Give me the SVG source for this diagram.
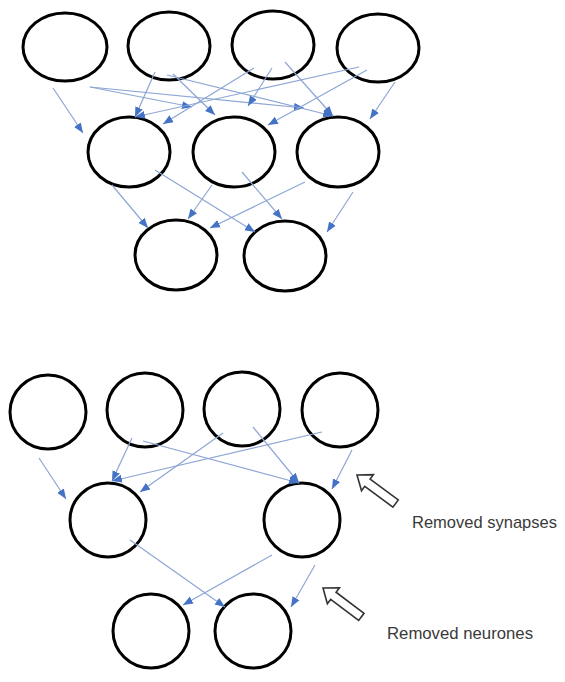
<svg xmlns="http://www.w3.org/2000/svg" width="565" height="682" viewBox="0 0 565 682">
<style>
.n{fill:#fff;stroke:#000;stroke-width:3}
.c{stroke:#8ea6d4;stroke-width:1.2;fill:none;marker-end:url(#ah)}
.h{fill:#fff;stroke:#333;stroke-width:1.6;stroke-linejoin:miter}
.t{font-family:"Liberation Sans",Arial,sans-serif;font-size:17px;fill:#3a3a3a}
</style>
<defs>
<marker id="ah" markerUnits="userSpaceOnUse" markerWidth="10" markerHeight="10" viewBox="0 0 10 10" refX="10" refY="5" orient="auto">
<path d="M0,1 L10,5 L0,9 Z" fill="#4472c4"/>
</marker>
<polygon id="hollow" points="0,0 13,-10 13,-4.5 48,-4.5 48,4.5 13,4.5 13,10"/>
</defs>
<rect width="565" height="682" fill="#fff"/>
<g id="top-nodes">
<g id="t1"><ellipse class="n" cx="65" cy="47" rx="42" ry="34"/></g>
<g id="t2"><ellipse class="n" cx="169" cy="46" rx="41" ry="34"/></g>
<g id="t3"><ellipse class="n" cx="273" cy="45" rx="41" ry="34"/></g>
<g id="t4"><ellipse class="n" cx="378" cy="48" rx="41" ry="34"/></g>
<g id="t5"><ellipse class="n" cx="129" cy="152" rx="41" ry="35"/></g>
<g id="t6"><ellipse class="n" cx="234" cy="152" rx="41" ry="35"/></g>
<g id="t7"><ellipse class="n" cx="338" cy="152" rx="41" ry="35"/></g>
<g id="t8"><ellipse class="n" cx="176" cy="255" rx="41" ry="35"/></g>
<g id="t9"><ellipse class="n" cx="285" cy="256" rx="41" ry="35"/></g>
</g>
<g id="bottom-nodes">
<g id="b1"><ellipse class="n" cx="48" cy="412" rx="38" ry="37"/></g>
<g id="b2"><ellipse class="n" cx="145" cy="410" rx="38" ry="37"/></g>
<g id="b3"><ellipse class="n" cx="242" cy="409" rx="38" ry="37"/></g>
<g id="b4"><ellipse class="n" cx="340" cy="410" rx="38" ry="37"/></g>
<g id="b5"><ellipse class="n" cx="108" cy="520" rx="38" ry="37"/></g>
<g id="b6"><ellipse class="n" cx="302" cy="520" rx="38" ry="37"/></g>
<g id="b7"><ellipse class="n" cx="151" cy="631" rx="38" ry="37"/></g>
<g id="b8"><ellipse class="n" cx="253" cy="631" rx="38" ry="37"/></g>
</g>
<g id="connectors">
<line class="c" x1="53" y1="88" x2="83" y2="133"/>
<line class="c" x1="90" y1="87" x2="192" y2="107"/>
<line class="c" x1="90" y1="87" x2="304" y2="108"/>
<line class="c" x1="155" y1="72" x2="135" y2="117"/>
<line class="c" x1="167" y1="75" x2="333" y2="116"/>
<line class="c" x1="173" y1="74" x2="215" y2="115"/>
<line class="c" x1="254" y1="68" x2="163" y2="124"/>
<line class="c" x1="272" y1="68" x2="248" y2="106"/>
<line class="c" x1="285" y1="62" x2="333" y2="116"/>
<line class="c" x1="359" y1="67" x2="135" y2="117"/>
<line class="c" x1="367" y1="70" x2="268" y2="125"/>
<line class="c" x1="395" y1="82" x2="370" y2="119"/>
<line class="c" x1="112" y1="185" x2="148" y2="228"/>
<line class="c" x1="155" y1="170" x2="255" y2="232"/>
<line class="c" x1="212" y1="185" x2="188" y2="219"/>
<line class="c" x1="242" y1="172" x2="282" y2="219"/>
<line class="c" x1="305" y1="182" x2="210" y2="228"/>
<line class="c" x1="353" y1="192" x2="327" y2="232"/>
<line class="c" x1="39" y1="458" x2="66" y2="499"/>
<line class="c" x1="132" y1="438" x2="112" y2="481"/>
<line class="c" x1="143" y1="441" x2="299" y2="483"/>
<line class="c" x1="223" y1="433" x2="140" y2="492"/>
<line class="c" x1="253" y1="427" x2="299" y2="483"/>
<line class="c" x1="322" y1="432" x2="112" y2="481"/>
<line class="c" x1="352" y1="450" x2="332" y2="489"/>
<line class="c" x1="130" y1="540" x2="225" y2="607"/>
<line class="c" x1="272" y1="555" x2="183" y2="605"/>
<line class="c" x1="315" y1="565" x2="291" y2="607"/>
</g>
<g id="annotations">
<use href="#hollow" class="h" transform="translate(357,475) rotate(36.5)"/>
<use href="#hollow" class="h" transform="translate(323,588) rotate(37)"/>
<text class="t" x="412" y="528" textLength="145" lengthAdjust="spacingAndGlyphs">Removed synapses</text>
<text class="t" x="387" y="639" textLength="146" lengthAdjust="spacingAndGlyphs">Removed neurones</text>
</g>
</svg>
